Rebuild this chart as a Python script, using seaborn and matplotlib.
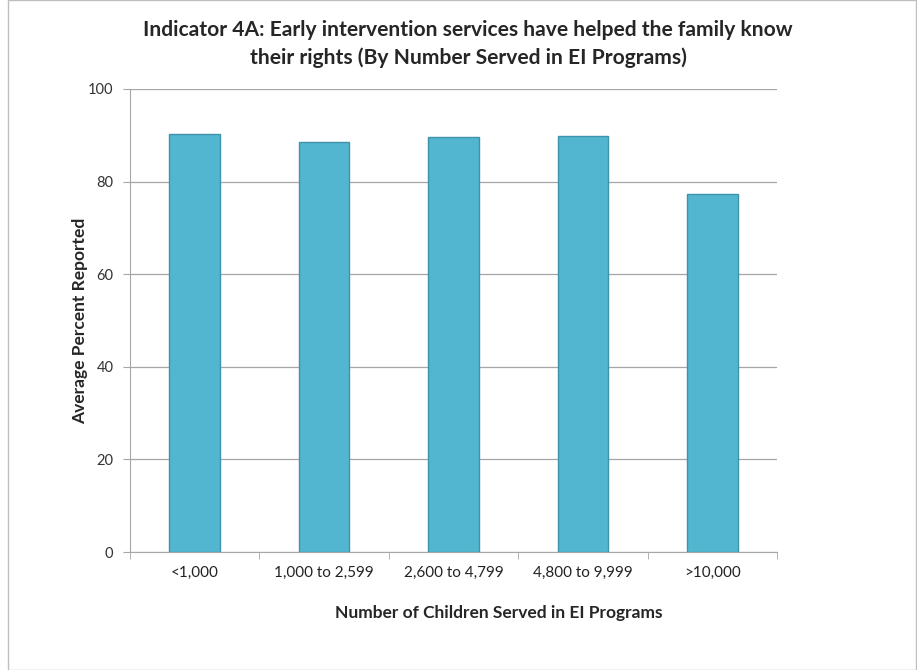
import seaborn as sns
import matplotlib.pyplot as plt
import pandas as pd
from matplotlib.patches import Rectangle

# values
categories = ['<1,000', '1,000 to 2,599', '2,600 to 4,799', '4,800 to 9,999', '>10,000']
avg_percent = [90.3, 88.6, 89.7, 89.8, 77.3]
y_ticks = [0, 20, 40, 60, 80, 100]

df = pd.DataFrame({'served': categories, 'percent': avg_percent})

sns.set_style('white')
plt.rcParams['font.family'] = ['Lato', 'DejaVu Sans']

fig = plt.figure(figsize=(9.17, 6.70), dpi=100)
ax = fig.add_axes([130 / 917, 1 - 552 / 670, 647 / 917, 463 / 670])

sns.barplot(data=df, x='served', y='percent', color='#52B6D1', width=0.39,
            edgecolor='#3E93AB', linewidth=1.0, saturation=1, ax=ax, zorder=3)

ax.set_ylim(0, 100)
ax.set_xlim(-0.5, len(categories) - 0.5)
ax.set_yticks(y_ticks)
ax.yaxis.grid(True, color='#A6A6A6', linewidth=0.9, zorder=0)
ax.set_axisbelow(True)
for s in ['top', 'right']:
    ax.spines[s].set_visible(False)
for s in ['left', 'bottom']:
    ax.spines[s].set_color('#A6A6A6')

ax.tick_params(axis='y', length=5, color='#A6A6A6', labelsize=10.5, pad=7, left=True, labelcolor='#333333')
ax.tick_params(axis='x', length=0, labelsize=11, pad=10, labelcolor='#222222')
ax.set_xticks([i - 0.5 for i in range(len(categories) + 1)], minor=True)
ax.tick_params(axis='x', which='minor', length=5, color='#A6A6A6', bottom=True)

ax.set_xlabel('Number of Children Served in EI Programs', fontsize=12.5, fontweight='bold')
ax.xaxis.set_label_coords((499 - 130) / 647, -53 / 463)
ax.set_ylabel('Average Percent Reported', fontsize=12.5, fontweight='bold')
ax.yaxis.set_label_coords(-42 / 647, 0.5)

fig.text(468 / 917, 1 - 44 / 670,
         'Indicator 4A: Early intervention services have helped the family know\ntheir rights (By Number Served in EI Programs)',
         ha='center', va='center', fontsize=15.1, fontweight='bold', linespacing=1.45)

fig.patches.append(Rectangle((8 / 917, 0), 1 - 9 / 917, 1, transform=fig.transFigure,
                             fill=False, edgecolor='#BFBFBF', linewidth=1))

fig.savefig('out.png', dpi=100)
